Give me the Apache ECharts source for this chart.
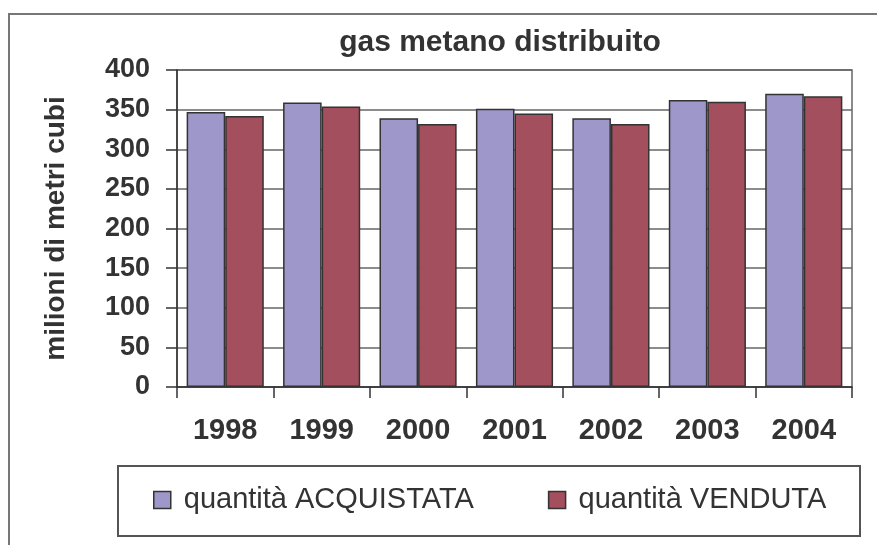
<!DOCTYPE html>
<html>
<head>
<meta charset="utf-8">
<script src="https://cdn.jsdelivr.net/npm/echarts@6/dist/echarts.min.js"></script>
<style>html,body{margin:0;padding:0;background:#fff;}#c{width:877px;height:545px;}</style>
</head>
<body>
<div id="c"></div>
<script>
var categories = ['1998', '1999', '2000', '2001', '2002', '2003', '2004'];
var acquistata = [347, 359, 339, 351, 339, 362, 370];
var venduta = [342, 354, 332, 345, 332, 360, 367];
var seriesNames = ['quantità ACQUISTATA', 'quantità VENDUTA'];
var titleText = 'gas metano distribuito';
var yAxisName = 'milioni di metri cubi';

var FONT = '"Liberation Sans", Arial, sans-serif';
var chart = echarts.init(document.getElementById('c'), null, {renderer: 'canvas'});
chart.setOption({
  animation: false,
  backgroundColor: '#fff',
  textStyle: {fontFamily: FONT},
  title: {
    text: titleText,
    left: 500, top: 28, textAlign: 'center', padding: 0,
    textStyle: {fontFamily: FONT, fontSize: 30, fontWeight: 'bold', color: '#333'}
  },
  graphic: [
    {type: 'rect', shape: {x: 9, y: 14, width: 900, height: 600}, style: {fill: 'none', stroke: '#777', lineWidth: 2}, z: -1},
    {type: 'rect', shape: {x: 118, y: 466, width: 742, height: 70}, style: {fill: 'none', stroke: '#555', lineWidth: 2}, z: -1}
  ],
  legend: {
    left: 153, top: 485, padding: 0,
    itemWidth: 17, itemHeight: 17, itemGap: 74,
    icon: 'rect',
    itemStyle: {borderColor: '#333', borderWidth: 1.5},
    textStyle: {fontFamily: FONT, fontSize: 29, color: '#333', lineHeight: 30, padding: [0, 0, 0, 8]},
    data: seriesNames
  },
  grid: {
    left: 177, top: 70, width: 675, height: 317,
    show: true, borderColor: '#666', borderWidth: 1.5, backgroundColor: '#fff'
  },
  xAxis: {
    type: 'category', data: categories,
    axisLine: {lineStyle: {color: '#333', width: 1.5}},
    axisTick: {show: true, length: 11, lineStyle: {color: '#333', width: 1.5}},
    axisLabel: {margin: 29, fontFamily: FONT, fontSize: 29, fontWeight: 'bold', color: '#333'}
  },
  yAxis: {
    type: 'value', min: 0, max: 400, interval: 50,
    name: yAxisName, nameLocation: 'middle', nameRotate: 90, nameGap: 107,
    nameTextStyle: {fontFamily: FONT, fontSize: 28, fontWeight: 'bold', color: '#333'},
    axisLine: {show: true, lineStyle: {color: '#333', width: 1.5}},
    axisTick: {show: true, length: 11, lineStyle: {color: '#333', width: 1.5}},
    splitLine: {lineStyle: {color: '#666', width: 1.5}},
    axisLabel: {margin: 27, fontFamily: FONT, fontSize: 27, fontWeight: 'bold', color: '#333'}
  },
  series: [
    {name: seriesNames[0], type: 'bar', data: acquistata, barGap: '0%', barCategoryGap: '20%',
     itemStyle: {color: '#9d97ca', borderColor: '#333', borderWidth: 1.5}},
    {name: seriesNames[1], type: 'bar', data: venduta,
     itemStyle: {color: '#a34f5d', borderColor: '#333', borderWidth: 1.5}}
  ]
});
</script>
</body>
</html>
